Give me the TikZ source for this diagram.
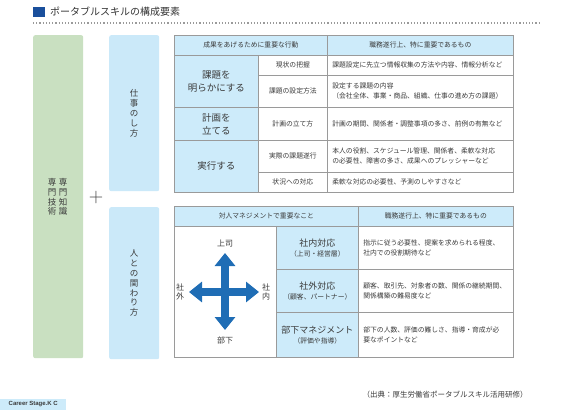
\documentclass[tikz,border=0pt]{standalone}
\usepackage{fontspec}
\newfontfamily\jp{Noto Sans CJK JP}
\newfontfamily\lsans{Liberation Sans}
\usetikzlibrary{arrows.meta}
\definecolor{sideblue}{HTML}{CBE9F9}
\definecolor{sidegreen}{HTML}{C9E0C1}
\definecolor{cellblue}{HTML}{CDEBFA}
\definecolor{rulegray}{HTML}{9A9A9A}
\definecolor{arrowblue}{HTML}{1F6DB5}
\definecolor{titleblue}{HTML}{1A4F9C}
\definecolor{inkgray}{HTML}{3A3A3A}

\begin{document}
\begin{tikzpicture}[
    x=1pt, y=-1pt,
    font=\jp, text=inkgray,
    sidebox/.style 2 args={
      anchor=north west,
      rounded corners=2pt,
      minimum width=#1,
      minimum height=#2,
      align=center,
      font=\jp\fontsize{8.5}{9.8}\selectfont
    },
    cell/.style 2 args={
      draw=rulegray,
      line width=0.7pt,
      anchor=north west,
      minimum width=#1,
      minimum height=#2,
      inner sep=1pt,
      align=center,
      font=\jp\fontsize{6.8}{10}\selectfont
    },
    head/.style 2 args={cell={#1}{#2}, fill=cellblue},
    topic/.style 2 args={cell={#1}{#2}, fill=cellblue, font=\jp\fontsize{9.5}{13}\selectfont},
    detail/.style 2 args={
      draw=rulegray,
      line width=0.7pt,
      anchor=north west,
      text width=#1,
      minimum height=#2,
      inner xsep=5pt,
      inner ysep=1pt,
      align=left,
      font=\jp\fontsize{6.8}{10}\selectfont
    },
    dirlabel/.style={align=center, inner sep=0pt, font=\jp\fontsize{8}{9}\selectfont},
    xarrow/.style={
      draw=arrowblue,
      line width=8pt,
      {Triangle[width=20pt,length=13pt]}-{Triangle[width=20pt,length=13pt]}
    }
  ]
  \useasboundingbox (0,0) rectangle (566,412);

  % title
  \node[fill=titleblue, anchor=north west, minimum width=12, minimum height=10, inner sep=0pt] (icon) at (33,7) {};
  \node[anchor=west, inner sep=0pt, font=\jp\fontsize{10}{12}\selectfont, text=black!80] (title) at (50,12)
    {ポータブルスキルの構成要素};
  \coordinate (ruleA) at (33,23);
  \coordinate (ruleB) at (540,23);
  \draw[rulegray, line width=1.2pt, dotted] (ruleA) -- (ruleB);

  % left columns
  \node[sidebox={50}{323}, fill=sidegreen] (expert) at (33,35) {};
  \node[dirlabel, font=\jp\fontsize{8.5}{9.8}\selectfont] (know) at (63,197) {専\\門\\知\\識};
  \node[dirlabel, font=\jp\fontsize{8.5}{9.8}\selectfont] (tech) at (52,197) {専\\門\\技\\術};
  \node[inner sep=0pt, font=\fontsize{20}{20}\selectfont, text=black!75] (plus) at (96,198) {+};
  \node[sidebox={50}{156}, fill=sideblue] (work) at (109,35) {仕\\事\\の\\し\\方};
  \node[sidebox={50}{152}, fill=sideblue] (people) at (109,207) {人\\と\\の\\関\\わ\\り\\方};

  % table: how to work
  \node[head={153}{20}] (h1) at (174,35) {成果をあげるために重要な行動};
  \node[head={186}{20}] (h2) at (327,35) {職務遂行上、特に重要であるもの};
  \node[topic={84}{52}] (issue) at (174,55) {課題を\\明らかにする};
  \node[cell={69}{20}] (issueA) at (258,55) {現状の把握};
  \node[detail={176pt}{20}] (issueAd) at (327,55) {課題設定に先立つ情報収集の方法や内容、情報分析など};
  \node[cell={69}{32}] (issueB) at (258,75) {課題の設定方法};
  \node[detail={176pt}{32}] (issueBd) at (327,75) {設定する課題の内容\\（会社全体、事業・商品、組織、仕事の進め方の課題）};
  \node[topic={84}{33}] (plan) at (174,107) {計画を\\立てる};
  \node[cell={69}{33}] (planA) at (258,107) {計画の立て方};
  \node[detail={176pt}{33}] (planAd) at (327,107) {計画の期間、関係者・調整事項の多さ、前例の有無など};
  \node[topic={84}{52}] (act) at (174,140) {実行する};
  \node[cell={69}{32}] (actA) at (258,140) {実際の課題遂行};
  \node[detail={176pt}{32}] (actAd) at (327,140) {本人の役割、スケジュール管理、関係者、柔軟な対応\\の必要性、障害の多さ、成果へのプレッシャーなど};
  \node[cell={69}{20}] (actB) at (258,172) {状況への対応};
  \node[detail={176pt}{20}] (actBd) at (327,172) {柔軟な対応の必要性、予測のしやすさなど};

  % table: relations with people
  \node[head={184}{20}] (g1) at (174,206) {対人マネジメントで重要なこと};
  \node[head={155}{20}] (g2) at (358,206) {職務遂行上、特に重要であるもの};
  \node[cell={102}{131}] (compass) at (174,226) {};
  \node[head={82}{43}] (inner) at (276,226)
    {{\fontsize{9}{11}\selectfont 社内対応}\\（上司・経営層）};
  \node[detail={145pt}{43}] (innerd) at (358,226) {指示に従う必要性、提案を求められる程度、\\社内での役割期待など};
  \node[head={82}{43}] (outer) at (276,269)
    {{\fontsize{9}{11}\selectfont 社外対応}\\（顧客、パートナー）};
  \node[detail={145pt}{43}] (outerd) at (358,269) {顧客、取引先、対象者の数、関係の継続期間、\\関係構築の難易度など};
  \node[head={82}{45}] (staff) at (276,312)
    {{\fontsize{9}{11}\selectfont 部下マネジメント}\\（評価や指導）};
  \node[detail={145pt}{45}] (staffd) at (358,312) {部下の人数、評価の難しさ、指導・育成が必\\要なポイントなど};

  % cross of directions
  \node[dirlabel] (boss) at (225,243) {上司};
  \node[dirlabel] (sub) at (225,340) {部下};
  \node[dirlabel] (outside) at (180,292) {社\\外};
  \node[dirlabel] (inside) at (266,292) {社\\内};
  \coordinate (up) at (225,253);
  \coordinate (down) at (225,330);
  \coordinate (west) at (189,292);
  \coordinate (east) at (259,292);
  \draw[xarrow] (up) -- (down);
  \draw[xarrow] (west) -- (east);

  % footer
  \node[anchor=center, inner sep=0pt, font=\jp\fontsize{7.5}{9}\selectfont] (source) at (445,395)
    {（出典：厚生労働省ポータブルスキル活用研修）};
  \node[fill=cellblue, anchor=south west, minimum width=66, minimum height=11, inner sep=0pt,
    font=\lsans\bfseries\fontsize{6}{7}\selectfont] (brand) at (0,410) {Career Stage.K C};
\end{tikzpicture}
\end{document}
